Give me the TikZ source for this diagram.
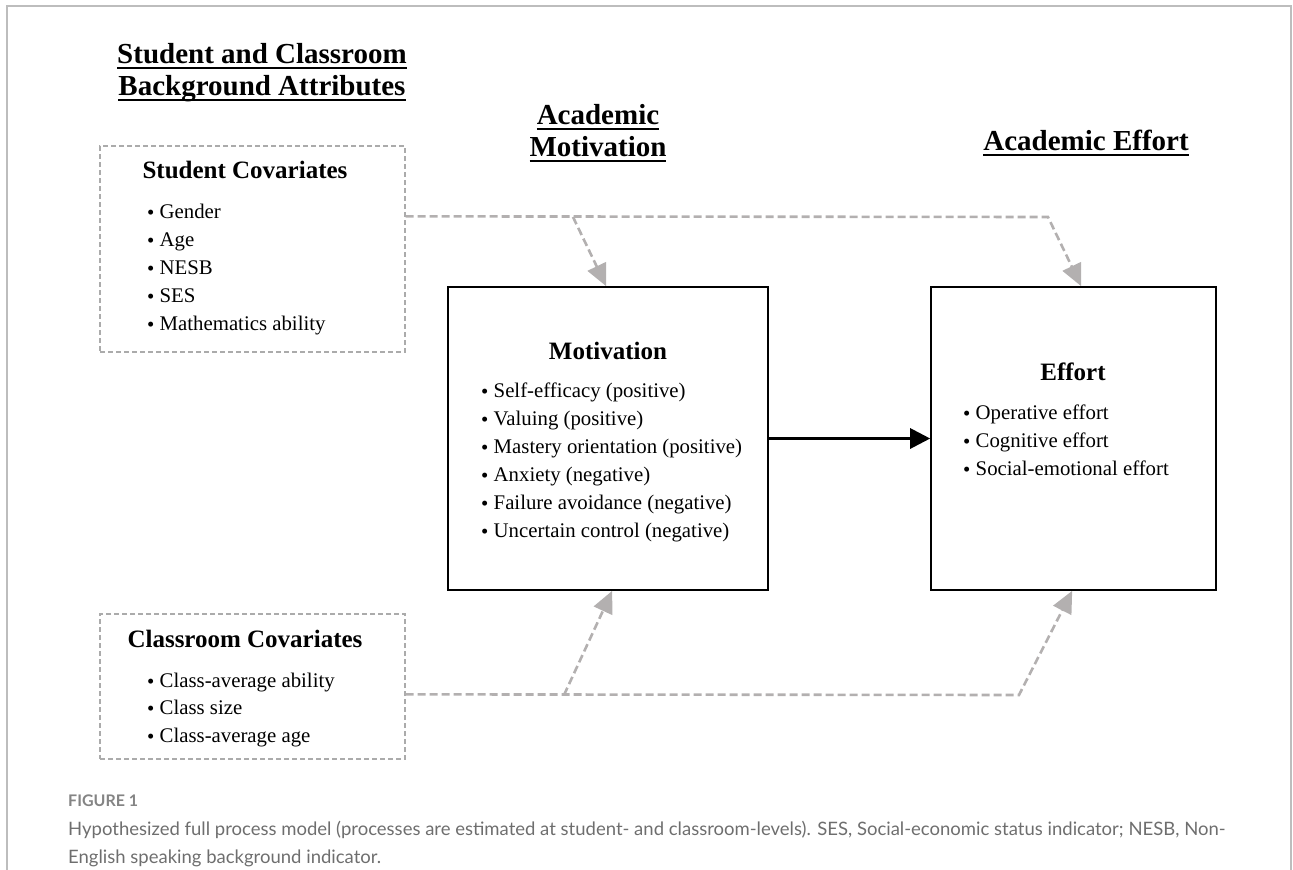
\documentclass[tikz,border=0pt]{standalone}
\usepackage{fontspec}
\setmainfont{Liberation Serif}
\newfontfamily\capfont{Lato}
\newcommand\myul[1]{\setbox0\hbox{#1}\rlap{\vrule height -3.6pt depth 5.8pt width \wd0}\box0}
\newcommand\bul{\raisebox{-1.2pt}{•}~}
\usetikzlibrary{arrows.meta,calc}
\definecolor{conngray}{HTML}{B3B0B0}
\definecolor{boxgray}{HTML}{ABABAB}
\definecolor{framegray}{HTML}{BDBDBD}
\definecolor{capgray}{HTML}{6E6E6E}
\tikzset{
  hdr/.style={font=\fontsize{29}{34}\selectfont\bfseries, anchor=base, inner sep=0pt},
  ttl/.style={font=\fontsize{25}{30}\selectfont\bfseries, anchor=base, inner sep=0pt},
  itm/.style={font=\fontsize{20.8}{28}\selectfont, anchor=base west, inner sep=0pt},
  dbox/.style={draw=boxgray, dash pattern=on 5pt off 3pt, line width=1.3pt, inner sep=0pt},
  sbox/.style={draw=black, line width=1.6pt, inner sep=0pt},
  conn/.style={draw=conngray, line width=2.6pt, dash pattern=on 8pt off 4pt, -{Triangle[length=22pt,width=20pt]}},
  mainarrow/.style={draw=black, line width=3pt, -{Triangle[length=20pt,width=20pt]}},
  capsty/.style={font=\capfont\fontsize{18.5}{27}\selectfont, text=capgray, anchor=base west, inner sep=0pt},
}
\begin{document}
\begin{tikzpicture}[x=1pt,y=-1pt]
\useasboundingbox (0,0) rectangle (1293,870);
% frame
\draw[framegray, line width=1.5pt] (7,870) -- (7,6) -- (1291,6) -- (1291,870);

% headers
\node[hdr] (h1a) at (262,63) {\myul{Student and Classroom}};
\node[hdr] (h1b) at (262,95) {\myul{Background Attributes}};
\node[hdr] (h2a) at (598,124) {\myul{Academic}};
\node[hdr] (h2b) at (598,156) {\myul{Motivation}};
\node[hdr] (h3) at (1086,150) {\myul{Academic Effort}};

% boxes
\node[dbox, minimum width=305pt, minimum height=206pt] (scov) at (252.5,249) {};
\node[dbox, minimum width=305pt, minimum height=145pt] (ccov) at (252.5,686.5) {};
\node[sbox, minimum width=320pt, minimum height=303pt] (mot) at (608,438.5) {};
\node[sbox, minimum width=285pt, minimum height=303pt] (eff) at (1073.5,438.5) {};

% student covariates
\node[ttl] (st) at (245,178) {Student Covariates};
\node[itm] (s1) at (147,218) {\bul Gender};
\node[itm] (s2) at (147,246) {\bul Age};
\node[itm] (s3) at (147,274) {\bul NESB};
\node[itm] (s4) at (147,302) {\bul SES};
\node[itm] (s5) at (147,330) {\bul Mathematics ability};

% classroom covariates
\node[ttl] (ct) at (245,647) {Classroom Covariates};
\node[itm] (c1) at (147,687) {\bul Class-average ability};
\node[itm] (c2) at (147,714) {\bul Class size};
\node[itm] (c3) at (147,742) {\bul Class-average age};

% motivation
\node[ttl] (mt) at (608,359) {Motivation};
\node[itm] (m1) at (481,397.5) {\bul Self-efficacy (positive)};
\node[itm] (m2) at (481,425.5) {\bul Valuing (positive)};
\node[itm] (m3) at (481,453.5) {\bul Mastery orientation (positive)};
\node[itm] (m4) at (481,481.5) {\bul Anxiety (negative)};
\node[itm] (m5) at (481,509.5) {\bul Failure avoidance (negative)};
\node[itm] (m6) at (481,537.5) {\bul Uncertain control (negative)};

% effort
\node[ttl] (et) at (1073,380) {Effort};
\node[itm] (e1) at (963,419) {\bul Operative effort};
\node[itm] (e2) at (963,447) {\bul Cognitive effort};
\node[itm] (e3) at (963,475) {\bul Social-emotional effort};

% connectors
\coordinate (sa) at ($(scov.north east)+(0,71)$);
\coordinate (sb) at (573,217);
\coordinate (sc) at (1048,217);
\coordinate (ca) at ($(ccov.north east)+(0,81)$);
\coordinate (cb) at (564,695);
\coordinate (cc) at (1019,695);
\draw[conn] (sa) -- (sc) -- ($(eff.north west)+(151,0)$);
\draw[conn] (sb) -- ($(mot.north west)+(159,0)$);
\draw[conn] (ca) -- (cc) -- ($(eff.south west)+(142,0)$);
\draw[conn] (cb) -- ($(mot.south west)+(165,0)$);
\draw[mainarrow] (mot.east) -- (eff.west);

% caption
\node[capsty, font=\capfont\bfseries\fontsize{16}{18}\selectfont, text=capgray!85] (fig) at (68,806) {FIGURE 1};
\node[capsty] (cap1) at (68,835) {Hypothesized full process model (processes are estimated at student- and classroom-levels). SES, Social-economic status indicator; NESB, Non-};
\node[capsty] (cap2) at (68,863) {English speaking background indicator.};
\end{tikzpicture}
\end{document}
